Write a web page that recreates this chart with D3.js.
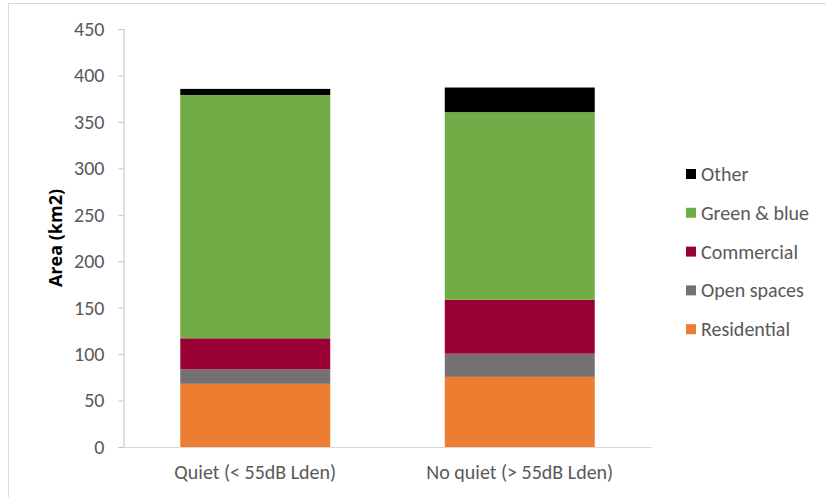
<!DOCTYPE html>
<html>
<head>
<meta charset="utf-8">
<script src="https://cdn.jsdelivr.net/npm/d3@7"></script>
<style>
  body { margin: 0; background: #fff; }
  text { font-family: Carlito, "Liberation Sans Narrow", "Open Sans", sans-serif; }
</style>
</head>
<body>
<div id="svg"></div>
<script>
const categories = ['Quiet (< 55dB Lden)', 'No quiet (> 55dB Lden)']
const seriesNames = ['Residential', 'Open spaces', 'Commercial', 'Green & blue', 'Other']
const residential = [68, 75.5]
const openSpaces = [15.5, 25]
const commercial = [33.5, 58]
const greenBlue = [262, 202]
const other = [6.5, 26.5]
const yTicks = [0, 50, 100, 150, 200, 250, 300, 350, 400, 450]
const colors = ['#ed7d31', '#767171', '#990033', '#70ad47', '#000000']

window.onload = function() {

  const width = 826
  const height = 497
  const margin = {left: 123, right: 174, top: 29, bottom: 50}

  const svg = d3.select('#svg')
                .append('svg')
                  .attr('width', width)
                  .attr('height', height)

  // chart frame
  svg.append('rect')
    .attr('x', 8.5).attr('y', 3.5)
    .attr('width', width).attr('height', height)
    .attr('fill', 'none')
    .attr('stroke', '#d9d9d9')

  const rows = categories.map((c, i) => ({
    cat: c,
    'Residential': residential[i],
    'Open spaces': openSpaces[i],
    'Commercial': commercial[i],
    'Green & blue': greenBlue[i],
    'Other': other[i]
  }))
  const stacked = d3.stack().keys(seriesNames)(rows)

  const x = d3.scaleBand()
    .domain(categories)
    .range([margin.left, width - margin.right])
    .paddingInner(0.433)
    .paddingOuter(0.2165)

  const y = d3.scaleLinear()
    .domain([0, 450])
    .range([height - margin.bottom, margin.top])

  // bars
  svg.append('g')
    .selectAll('g')
    .data(stacked)
    .join('g')
      .attr('fill', (d, i) => colors[i])
    .selectAll('rect')
    .data(d => d)
    .join('rect')
      .attr('x', d => x(d.data.cat))
      .attr('width', x.bandwidth())
      .attr('y', d => y(d[1]))
      .attr('height', d => y(d[0]) - y(d[1]))

  // y axis
  const yAxis = svg.append('g')
    .attr('transform', 'translate(' + (margin.left + 0.5) + ',0)')
    .call(d3.axisLeft(y).tickValues(yTicks).tickSize(5).tickPadding(14))
  yAxis.select('.domain').attr('stroke', '#bfbfbf')
  yAxis.selectAll('.tick line').attr('stroke', '#bfbfbf')
  yAxis.selectAll('.tick text')
    .attr('fill', '#595959')
    .style('font-size', '20px')

  // x axis
  const xAxis = svg.append('g')
    .attr('transform', 'translate(0,' + (y(0) + 0.5) + ')')
    .call(d3.axisBottom(x).tickSize(0).tickPadding(17))
  xAxis.select('.domain').attr('stroke', '#d9d9d9').attr('d', 'M' + margin.left + ',0H' + x.range()[1])
  xAxis.selectAll('.tick text')
    .attr('fill', '#595959')
    .style('font-size', '20px')

  // y axis title
  svg.append('text')
    .attr('transform', 'translate(62,' + ((y(0) + y(450)) / 2) + ') rotate(-90)')
    .attr('text-anchor', 'middle')
    .attr('fill', '#000')
    .style('font-family', '"Open Sans", sans-serif')
    .style('font-size', '18px')
    .style('font-weight', 'bold')
    .text('Area (km2)')

  // legend, top entry is Other
  const legend = svg.append('g')
    .selectAll('g')
    .data(seriesNames.slice().reverse())
    .join('g')
      .attr('transform', (d, i) => 'translate(686,' + (174 + i * 38.8) + ')')
  legend.append('rect')
    .attr('x', 0).attr('y', -5)
    .attr('width', 10).attr('height', 10)
    .attr('fill', d => colors[seriesNames.indexOf(d)])
  legend.append('text')
    .attr('x', 15).attr('y', 0)
    .attr('dy', '0.35em')
    .attr('fill', '#595959')
    .style('font-size', '20px')
    .text(d => d)

};
</script>
</body>
</html>
